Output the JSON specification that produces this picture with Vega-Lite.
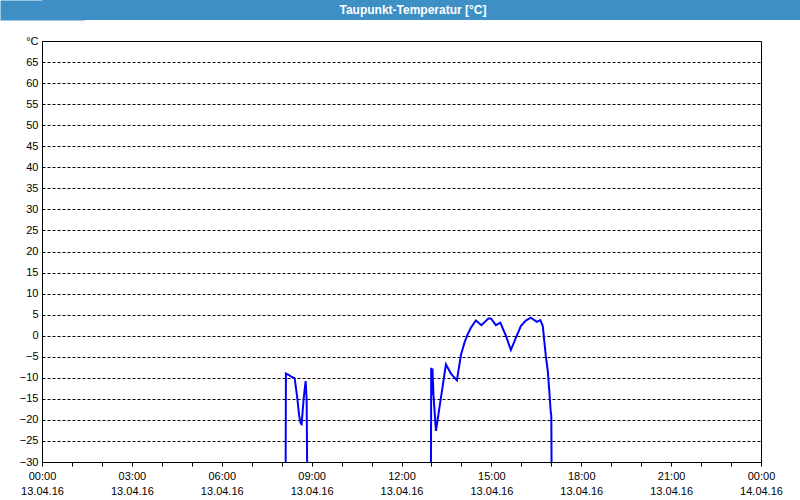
{
  "$schema": "https://vega.github.io/schema/vega-lite/v6.json",
  "padding": 0,
  "background": "white",
  "spacing": 14,
  "config": {"view": {"stroke": null}},
  "datasets": {
    "taupunkt": [
      {"h": 8.1333, "v": -30, "seg": "a"},
      {"h": 8.1417, "v": -9, "seg": "a"},
      {"h": 8.2333, "v": -9.3, "seg": "a"},
      {"h": 8.3333, "v": -9.8, "seg": "a"},
      {"h": 8.4333, "v": -10.1, "seg": "a"},
      {"h": 8.5167, "v": -14.5, "seg": "a"},
      {"h": 8.5833, "v": -19, "seg": "a"},
      {"h": 8.6333, "v": -20.8, "seg": "a"},
      {"h": 8.6667, "v": -21, "seg": "a"},
      {"h": 8.7333, "v": -15, "seg": "a"},
      {"h": 8.8, "v": -10.8, "seg": "a"},
      {"h": 8.8333, "v": -15, "seg": "a"},
      {"h": 8.85, "v": -30, "seg": "a"},
      {"h": 12.9833, "v": -30, "seg": "b"},
      {"h": 12.9917, "v": -7.6, "seg": "b"},
      {"h": 13.0083, "v": -14, "seg": "b"},
      {"h": 13.0333, "v": -7.8, "seg": "b"},
      {"h": 13.0667, "v": -14, "seg": "b"},
      {"h": 13.15, "v": -22.6, "seg": "b"},
      {"h": 13.3167, "v": -14.7, "seg": "b"},
      {"h": 13.4833, "v": -6.8, "seg": "b"},
      {"h": 13.65, "v": -9, "seg": "b"},
      {"h": 13.85, "v": -10.6, "seg": "b"},
      {"h": 13.9833, "v": -4.6, "seg": "b"},
      {"h": 14.1, "v": -1.7, "seg": "b"},
      {"h": 14.2, "v": 0.2, "seg": "b"},
      {"h": 14.3167, "v": 1.9, "seg": "b"},
      {"h": 14.4833, "v": 3.6, "seg": "b"},
      {"h": 14.6667, "v": 2.5, "seg": "b"},
      {"h": 14.9, "v": 4.1, "seg": "b"},
      {"h": 14.9833, "v": 4.1, "seg": "b"},
      {"h": 15.15, "v": 2.5, "seg": "b"},
      {"h": 15.3, "v": 3.1, "seg": "b"},
      {"h": 15.4833, "v": 0, "seg": "b"},
      {"h": 15.65, "v": -3.4, "seg": "b"},
      {"h": 15.8167, "v": -0.5, "seg": "b"},
      {"h": 15.9833, "v": 2.3, "seg": "b"},
      {"h": 16.15, "v": 3.6, "seg": "b"},
      {"h": 16.3167, "v": 4.3, "seg": "b"},
      {"h": 16.5167, "v": 3.3, "seg": "b"},
      {"h": 16.6333, "v": 3.7, "seg": "b"},
      {"h": 16.7167, "v": 2.3, "seg": "b"},
      {"h": 16.7667, "v": -1.3, "seg": "b"},
      {"h": 16.8167, "v": -4.8, "seg": "b"},
      {"h": 16.8833, "v": -8.4, "seg": "b"},
      {"h": 16.9333, "v": -13.1, "seg": "b"},
      {"h": 16.9833, "v": -18.3, "seg": "b"},
      {"h": 17.0, "v": -19, "seg": "b"},
      {"h": 17.0083, "v": -30, "seg": "b"}
    ],
    "raster": [
      {"h": 3}, {"h": 6}, {"h": 9}, {"h": 12}, {"h": 15}, {"h": 18}, {"h": 21}
    ]
  },
  "vconcat": [
    {
      "width": 758,
      "height": 20,
      "view": {"fill": "#3d8fc6", "stroke": null},
      "data": {"values": [{"label": "Taupunkt-Temperatur [°C]"}]},
      "mark": {"type": "text", "color": "white", "font": "Liberation Sans", "fontSize": 12, "fontWeight": "bold", "dx": -8},
      "encoding": {
        "text": {"field": "label"},
        "y": {
          "datum": 0,
          "type": "quantitative",
          "scale": {"domain": [-1, 1]},
          "axis": {
            "title": null,
            "labels": false,
            "ticks": false,
            "grid": false,
            "domain": true,
            "domainColor": "#3d8fc6",
            "domainWidth": 84,
            "domainCap": "butt"
          }
        }
      }
    },
    {
      "hconcat": [
        {
          "width": 719,
          "height": 421,
          "view": {"fill": "white", "stroke": "black", "strokeWidth": 1},
          "layer": [
            {
              "data": {"name": "raster"},
              "mark": {"type": "rule", "color": "black", "strokeWidth": 1, "strokeDash": [3, 2]},
              "encoding": {
                "x": {"field": "h", "type": "quantitative"}
              }
            },
            {
              "data": {"name": "taupunkt"},
              "mark": {"type": "line", "color": "#0000ff", "strokeWidth": 2, "clip": true},
              "encoding": {
                "x": {"field": "h", "type": "quantitative"},
                "y": {"field": "v", "type": "quantitative"},
                "detail": {"field": "seg"}
              }
            }
          ],
          "encoding": {
            "x": {
              "field": "h",
              "type": "quantitative",
              "scale": {"domain": [0, 24], "nice": false, "zero": false},
              "axis": {
                "title": null,
                "values": [0, 1, 2, 3, 4, 5, 6, 7, 8, 9, 10, 11, 12, 13, 14, 15, 16, 17, 18, 19, 20, 21, 22, 23, 24],
                "labelExpr": "datum.value % 3 == 0 ? [(datum.value < 10 ? '0' : '') + (datum.value == 24 ? '00' : datum.value) + ':00', datum.value == 24 ? '14.04.16' : '13.04.16'] : ''",
                "labelFont": "Liberation Sans",
                "labelFontSize": 11,
                "labelColor": "black",
                "labelOverlap": false,
                "labelFlush": false,
                "labelBound": false,
                "labelPadding": 4,
                "labelLineHeight": 15,
                "tickSize": 4,
                "tickColor": "black",
                "domainColor": "black",
                "grid": false
              }
            },
            "y": {
              "field": "v",
              "type": "quantitative",
              "scale": {"domain": [-30, 70], "nice": false, "zero": false},
              "axis": {
                "title": null,
                "values": [-30, -25, -20, -15, -10, -5, 0, 5, 10, 15, 20, 25, 30, 35, 40, 45, 50, 55, 60, 65, 70],
                "labelExpr": "datum.value == 70 ? '°C' : datum.label",
                "ticks": false,
                "labelPadding": 4,
                "labelFont": "Liberation Sans",
                "labelFontSize": 11,
                "labelColor": "black",
                "labelOverlap": false,
                "labelBound": false,
                "labelFlush": false,
                "domain": false,
                "grid": true,
                "gridColor": "black",
                "gridDash": [3, 2],
                "minExtent": 41
              }
            }
          }
        }
      ]
    }
  ]
}
